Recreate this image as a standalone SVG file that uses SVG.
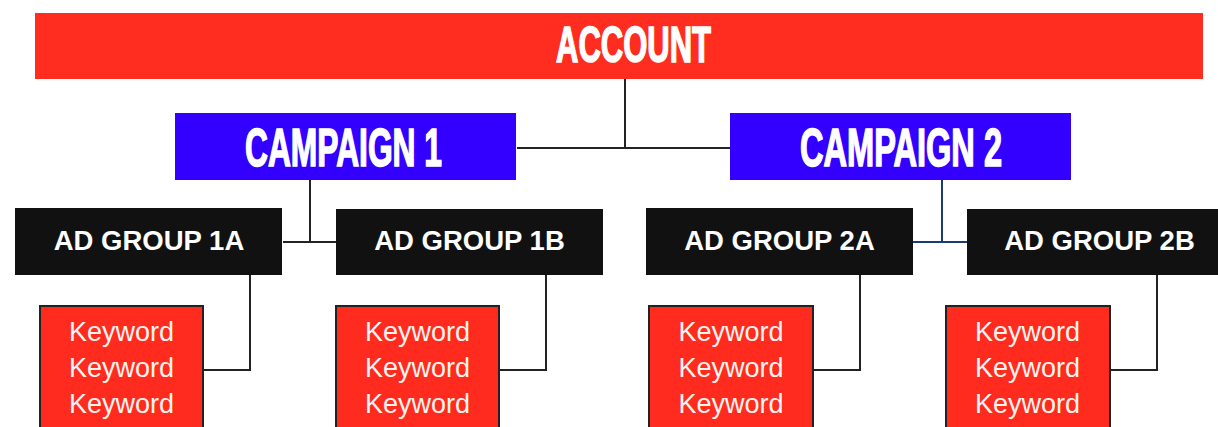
<svg xmlns="http://www.w3.org/2000/svg" width="1218" height="427" viewBox="0 0 1218 427">
<style>
.title{font-family:"Liberation Sans",Arial,sans-serif;font-weight:bold;fill:#ffffff;stroke:#ffffff;stroke-width:1.6;text-anchor:middle}
.ag{font-family:"Liberation Sans",Arial,sans-serif;font-weight:bold;font-size:27.5px;fill:#ffffff;text-anchor:middle}
.kw{font-family:"Liberation Sans",Arial,sans-serif;font-size:27px;fill:#fff4f0;text-anchor:middle}
.agbox{fill:#111111}
.kwbox{fill:#ff2b1e;stroke:#222222;stroke-width:2}
.conn{fill:none;stroke:#222222;stroke-width:2}
.conn2{fill:none;stroke:#1a3d6d;stroke-width:2}
</style>
<rect width="1218" height="427" fill="#ffffff"/>
<g id="connectors">
<path class="conn" d="M625 79 V148 M517 148 H730"/>
<path class="conn" d="M310 180 V242 M283 242 H336"/>
<path class="conn2" d="M942 180 V242 M913 242 H967"/>
<path class="conn" d="M250 275 V370 H203"/>
<path class="conn" d="M546 275 V370 H499"/>
<path class="conn" d="M860 275 V370 H813"/>
<path class="conn" d="M1157 275 V370 H1110"/>
</g>
<g id="account">
<rect x="35" y="13" width="1168" height="66" fill="#ff2d1f"/>
<text class="title" x="633.5" y="62" font-size="50" textLength="155" lengthAdjust="spacingAndGlyphs">ACCOUNT</text>
</g>
<g id="campaign1">
<rect x="175" y="113" width="341" height="67" fill="#3300ff"/>
<text class="title" x="343.5" y="166" font-size="53" textLength="197" lengthAdjust="spacingAndGlyphs">CAMPAIGN 1</text>
</g>
<g id="campaign2">
<rect x="730" y="113" width="341" height="67" fill="#3300ff"/>
<text class="title" x="901" y="166" font-size="53" textLength="202" lengthAdjust="spacingAndGlyphs">CAMPAIGN 2</text>
</g>
<g id="adgroup1a">
<rect class="agbox" x="15" y="208" width="267" height="67"/>
<text class="ag" x="149" y="250">AD GROUP 1A</text>
</g>
<g id="adgroup1b">
<rect class="agbox" x="336" y="209" width="267" height="66"/>
<text class="ag" x="469.5" y="250">AD GROUP 1B</text>
</g>
<g id="adgroup2a">
<rect class="agbox" x="646" y="208" width="267" height="67"/>
<text class="ag" x="779.5" y="250">AD GROUP 2A</text>
</g>
<g id="adgroup2b">
<rect class="agbox" x="967" y="209" width="267" height="66"/>
<text class="ag" x="1099.5" y="250">AD GROUP 2B</text>
</g>
<g id="keywords1a">
<rect class="kwbox" x="40" y="306" width="163" height="140"/>
<text class="kw" x="121.5" y="341">Keyword</text>
<text class="kw" x="121.5" y="377">Keyword</text>
<text class="kw" x="121.5" y="413">Keyword</text>
</g>
<g id="keywords1b">
<rect class="kwbox" x="336" y="306" width="163" height="140"/>
<text class="kw" x="417.5" y="341">Keyword</text>
<text class="kw" x="417.5" y="377">Keyword</text>
<text class="kw" x="417.5" y="413">Keyword</text>
</g>
<g id="keywords2a">
<rect class="kwbox" x="649" y="306" width="164" height="140"/>
<text class="kw" x="731" y="341">Keyword</text>
<text class="kw" x="731" y="377">Keyword</text>
<text class="kw" x="731" y="413">Keyword</text>
</g>
<g id="keywords2b">
<rect class="kwbox" x="946" y="306" width="164" height="140"/>
<text class="kw" x="1027.5" y="341">Keyword</text>
<text class="kw" x="1027.5" y="377">Keyword</text>
<text class="kw" x="1027.5" y="413">Keyword</text>
</g>
</svg>
